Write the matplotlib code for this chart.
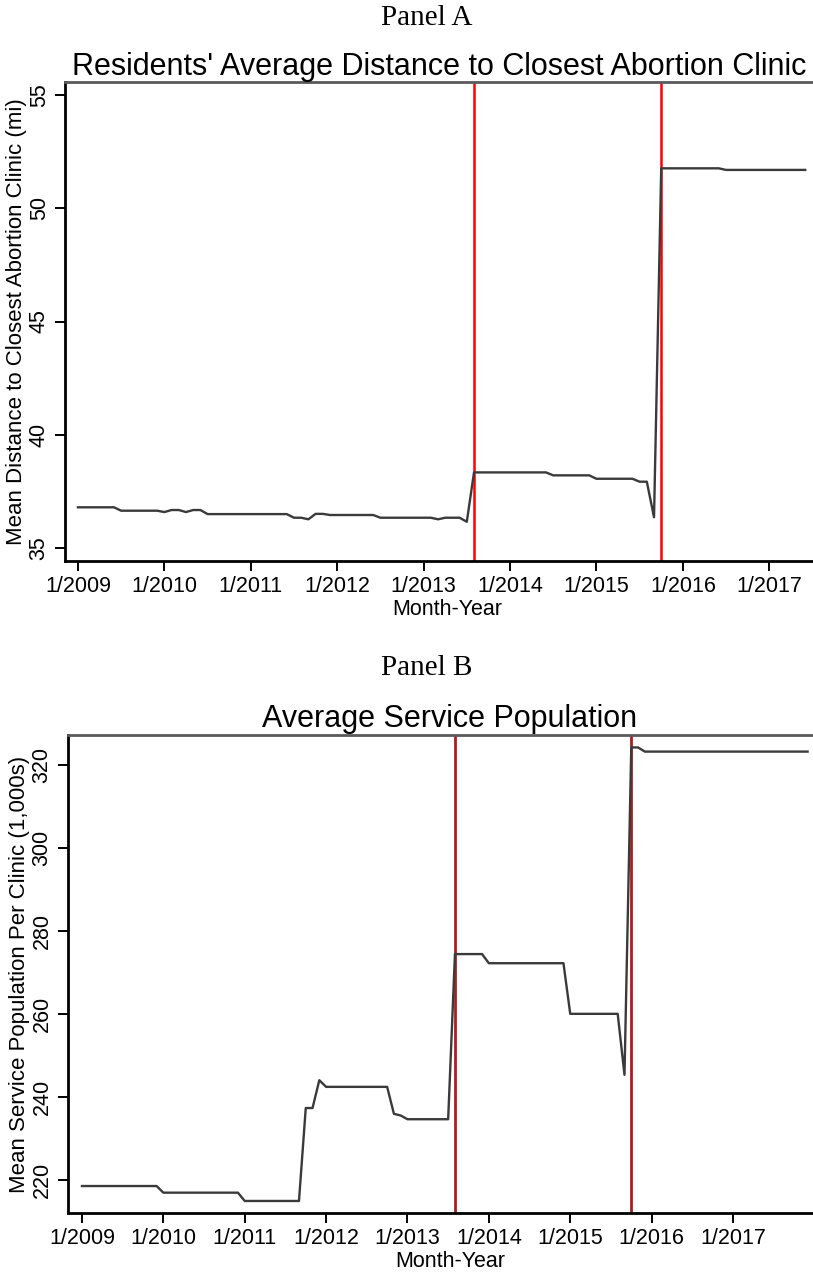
import numpy as np
import matplotlib
matplotlib.use("Agg")
import matplotlib.pyplot as plt

plt.rcParams['font.family'] = ['Liberation Sans', 'DejaVu Sans']

# months counted from 1/2009
tick_months = [0, 12, 24, 36, 48, 60, 72, 84, 96]
tick_labels = ["1/2009", "1/2010", "1/2011", "1/2012", "1/2013",
               "1/2014", "1/2015", "1/2016", "1/2017"]
law_months = [55, 81]  # 8/2013 and 10/2015

# Panel A: mean distance to closest clinic (mi), 1/2009 - 6/2017
dist = ([36.80] * 6 + [36.65] * 6 + [36.59] + [36.68] * 2 + [36.59] + [36.68] * 2
        + [36.50] * 12 + [36.34] * 2 + [36.27] + [36.51] * 2 + [36.46] * 7
        + [36.34] * 8 + [36.27] + [36.34] * 3 + [36.16]
        + [38.34] * 11 + [38.21] * 6 + [38.06] * 6 + [37.93] * 2 + [36.36]
        + [51.76] * 9 + [51.69] * 12)

# Panel B: mean service population per clinic (1,000s), 1/2009 - 12/2017
pop = ([218.5] * 12 + [216.9] * 12 + [214.9] * 9 + [237.3] * 2 + [244.0]
       + [242.4] * 10 + [235.9] + [235.5] + [234.6] * 7
       + [274.4] * 5 + [272.2] * 12 + [260.0] * 8 + [245.3]
       + [324.2] * 2 + [323.2] * 25)

W, H = 813, 1272
fig = plt.figure(figsize=(W / 100, H / 100), dpi=100)


def style_axes(ax, yticks, ylabel, xlim, ylim):
    ax.set_xlim(*xlim)
    ax.set_ylim(*ylim)
    ax.set_xticks(tick_months)
    ax.set_xticklabels(tick_labels, fontsize=15.5)
    ax.set_yticks(yticks)
    ax.set_yticklabels([str(v) for v in yticks], fontsize=15.5, rotation=90, va="center")
    ax.tick_params(direction="out", length=7, width=1.4, color="black", pad=4)
    for s in ["left", "bottom"]:
        ax.spines[s].set_linewidth(2)
        ax.spines[s].set_color("black")
    ax.spines["top"].set_linewidth(2)
    ax.spines["top"].set_color("#5a5a5a")
    ax.spines["right"].set_visible(False)
    ax.set_xlabel("Month-Year", fontsize=15.5, labelpad=1)
    ax.set_ylabel(ylabel, fontsize=16, labelpad=1)


# Panel A
axA = fig.add_axes([65 / W, 1 - 561 / H, 764 / W, 479 / H])
mA = np.arange(len(dist))
axA.plot(mA, dist, color="#3a3a3a", lw=1.7, zorder=3)
for m in law_months:
    axA.axvline(m, color="#ff0000", lw=1.8, zorder=2)
style_axes(axA, [35, 40, 45, 50, 55],
           "Mean Distance to Closest Abortion Clinic (mi)",
           (-1.8, 104.3), (34.43, 55.57))
axA.set_title("Residents' Average Distance to Closest Abortion Clinic",
              fontsize=22, pad=4, x=0.49)

# Panel B
axB = fig.add_axes([68 / W, 1 - 1213 / H, 764 / W, 478 / H])
mB = np.arange(len(pop))
axB.plot(mB, pop, color="#3a3a3a", lw=1.7, zorder=3)
for m in law_months:
    axB.axvline(m, color="#a8201e", lw=2.0, zorder=2)
style_axes(axB, [220, 240, 260, 280, 300, 320],
           "Mean Service Population Per Clinic (1,000s)",
           (-2.06, 110.6), (212.0, 327.2))
axB.set_title("Average Service Population", fontsize=22, pad=6)

fig.text(427 / W, 1 - 18 / H, "Panel A", family="Liberation Serif",
         fontsize=21, ha="center", va="center")
fig.text(427 / W, 1 - 668 / H, "Panel B", family="Liberation Serif",
         fontsize=21, ha="center", va="center")

fig.savefig("out.png", dpi=100)
